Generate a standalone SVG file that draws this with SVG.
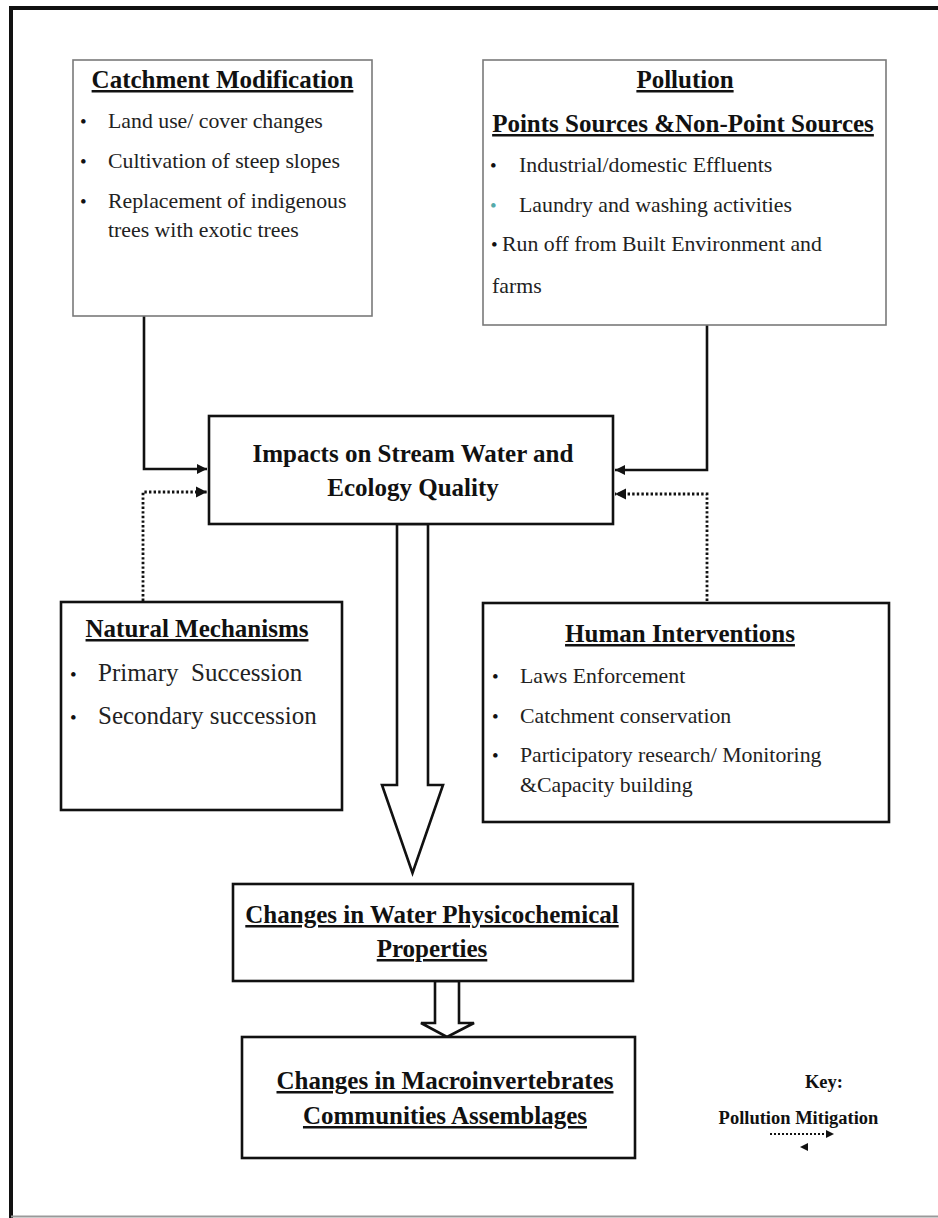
<svg xmlns="http://www.w3.org/2000/svg" width="938" height="1218" viewBox="0 0 938 1218">
<style>
  text { font-family: "Liberation Serif", "Times New Roman", serif; fill: #222; }
  .t { font-weight: bold; font-size: 25px; fill: #111; }
  .u { text-decoration: underline; }
  .b { font-size: 21.8px; }
  .b25 { font-size: 25px; white-space: pre; }
  .dot { font-size: 19px; fill: #111; }
  .thin { fill: #fff; stroke: #7a7a7a; stroke-width: 1.6; }
  .box { fill: #fff; stroke: #111; stroke-width: 2.6; }
  .ln { fill: none; stroke: #111; stroke-width: 2.6; }
  .dl { fill: none; stroke: #111; stroke-width: 2.8; stroke-dasharray: 2.4 2.2; }
  .hollow { fill: #fff; stroke: #111; stroke-width: 2.6; stroke-linejoin: miter; }
  .key { font-weight: bold; font-size: 18.5px; fill: #111; }
</style>
<defs>
  <marker id="ah" viewBox="0 0 10 10" refX="10" refY="5" markerWidth="4" markerHeight="4" orient="auto" markerUnits="strokeWidth">
    <path d="M0,0 L10,5 L0,10 z" fill="#111"/>
  </marker>
</defs>
<rect x="0" y="0" width="938" height="1218" fill="#fff"/>
<g id="frame">
  <line x1="11" y1="8" x2="938" y2="8" stroke="#111" stroke-width="4"/>
  <line x1="11" y1="6" x2="11" y2="1218" stroke="#111" stroke-width="4"/>
  <line x1="11" y1="1216.5" x2="938" y2="1216.5" stroke="#999" stroke-width="2"/>
</g>

<g id="connectors">
  <path class="ln" d="M144,316 V469 H207" marker-end="url(#ah)"/>
  <path class="ln" d="M707,325 V470 H615" marker-end="url(#ah)"/>
  <path class="dl" d="M143,601 V492 H207" marker-end="url(#ah)"/>
  <path class="dl" d="M707,601 V494 H615" marker-end="url(#ah)"/>
  <path class="hollow" d="M397,524 H428 V785 H443 L412.5,873 L382,785 H397 Z"/>
  <path class="hollow" d="M435,981 H459 V1023 H474 L447,1037 L421,1023 H435 Z"/>
</g>

<g id="catchment">
  <rect class="thin" x="73" y="60" width="299" height="256"/>
  <text class="t u" x="222.5" y="88" text-anchor="middle">Catchment Modification</text>
  <text class="dot" x="80" y="128">•</text>
  <text class="b" x="108" y="128">Land use/ cover changes</text>
  <text class="dot" x="80" y="168">•</text>
  <text class="b" x="108" y="168">Cultivation of steep slopes</text>
  <text class="dot" x="80" y="208">•</text>
  <text class="b" x="108" y="208">Replacement of indigenous</text>
  <text class="b" x="108" y="237">trees with exotic trees</text>
</g>

<g id="pollution">
  <rect class="thin" x="483" y="60" width="403" height="265"/>
  <text class="t u" x="685" y="88" text-anchor="middle">Pollution</text>
  <text class="t u" x="683" y="132" text-anchor="middle">Points Sources &amp;Non-Point Sources</text>
  <text class="dot" x="490" y="172">•</text>
  <text class="b" x="519" y="172">Industrial/domestic Effluents</text>
  <text class="dot" x="490" y="212" style="fill:#5aa">•</text>
  <text class="b" x="519" y="212">Laundry and washing activities</text>
  <text class="dot" x="491" y="251">•</text>
  <text class="b" x="502" y="251">Run off from Built Environment and</text>
  <text class="b" x="492" y="293">farms</text>
</g>

<g id="impacts">
  <rect class="box" x="209" y="416" width="404" height="108"/>
  <text class="t" x="413" y="462" text-anchor="middle">Impacts on Stream Water and</text>
  <text class="t" x="413" y="496" text-anchor="middle">Ecology Quality</text>
</g>

<g id="natural">
  <rect class="box" x="61" y="602" width="281" height="208"/>
  <text class="t u" x="197" y="637" text-anchor="middle">Natural Mechanisms</text>
  <text class="dot" x="70" y="681">•</text>
  <text class="b25" x="98" y="681" xml:space="preserve">Primary  Succession</text>
  <text class="dot" x="70" y="724">•</text>
  <text class="b25" x="98" y="724">Secondary succession</text>
</g>

<g id="human">
  <rect class="box" x="483" y="603" width="406" height="219"/>
  <text class="t u" x="680" y="642" text-anchor="middle">Human Interventions</text>
  <text class="dot" x="492" y="683">•</text>
  <text class="b" x="520" y="683">Laws Enforcement</text>
  <text class="dot" x="492" y="723">•</text>
  <text class="b" x="520" y="723">Catchment conservation</text>
  <text class="dot" x="492" y="762">•</text>
  <text class="b" x="520" y="762">Participatory research/ Monitoring</text>
  <text class="b" x="520" y="792">&amp;Capacity building</text>
</g>

<g id="water">
  <rect class="box" x="233" y="884" width="400" height="97"/>
  <text class="t u" x="432" y="923" text-anchor="middle">Changes in Water Physicochemical</text>
  <text class="t u" x="432" y="957" text-anchor="middle">Properties</text>
</g>

<g id="macro">
  <rect class="box" x="242" y="1037" width="393" height="121"/>
  <text class="t u" x="445" y="1089" text-anchor="middle">Changes in Macroinvertebrates</text>
  <text class="t u" x="445" y="1124" text-anchor="middle">Communities Assemblages</text>
</g>

<g id="key">
  <text class="key" x="824" y="1088" text-anchor="middle">Key:</text>
  <text class="key" x="798.5" y="1124" text-anchor="middle">Pollution Mitigation</text>
  <line x1="770" y1="1134" x2="834" y2="1134" stroke="#111" stroke-width="2" stroke-dasharray="2 2" marker-end="url(#ah)"/>
  <path d="M800,1147 L808,1143 L808,1151 Z" fill="#111"/>
</g>
</svg>
